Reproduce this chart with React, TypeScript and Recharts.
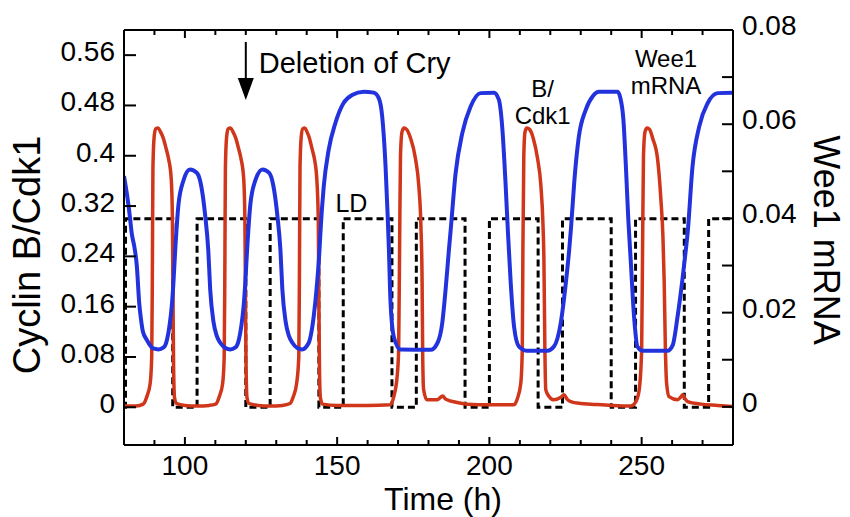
import React from 'react';
import { LineChart, Line, XAxis, YAxis, ReferenceDot } from 'recharts';

const FONT = '"Liberation Sans", Arial, Helvetica, sans-serif';
const RED = '#d0361a';
const BLUE = '#2233dd';

// Cyclin B/Cdk1 (left axis): [time h, level]
const cyclinSamples: [number, number][] = [
  [80, 0.002], [84, 0.002], [86.3, 0.005], [87.5, 0.017], [88.6, 0.038], [89.1, 0.08], [89.3, 0.2], [89.5, 0.38],
  [89.9, 0.43], [90.4, 0.443], [91.2, 0.444], [92.0, 0.438], [92.9, 0.428], [93.8, 0.412], [94.6, 0.396], [95.5, 0.364],
  [95.9, 0.3], [96.1, 0.17], [96.3, 0.06], [96.6, 0.015], [97.3, 0.006], [100, 0.003], [104, 0.002], [108, 0.003],
  [110.1, 0.005], [111.3, 0.017], [112.4, 0.038], [112.9, 0.08], [113.1, 0.2], [113.3, 0.38], [113.7, 0.43], [114.2, 0.443],
  [115.0, 0.444], [115.8, 0.438], [116.7, 0.428], [117.6, 0.412], [118.4, 0.396], [119.3, 0.364], [119.7, 0.3], [119.9, 0.17],
  [120.1, 0.06], [120.4, 0.015], [121.1, 0.006], [124, 0.003], [128, 0.002], [132, 0.003],
  [134.5, 0.006], [135.6, 0.017], [136.7, 0.038], [137.4, 0.08], [137.6, 0.2], [137.8, 0.38], [138.2, 0.43], [138.7, 0.443],
  [139.4, 0.444], [140.1, 0.438], [140.9, 0.428], [141.7, 0.412], [142.5, 0.396], [143.3, 0.364], [143.8, 0.3], [144.0, 0.17],
  [144.2, 0.06], [144.5, 0.015], [145.2, 0.005], [150, 0.003], [160, 0.003], [167.5, 0.004],
  [168.6, 0.017], [169.7, 0.049], [170.2, 0.092], [170.5, 0.25], [170.8, 0.4], [171.3, 0.438], [172.0, 0.444], [172.8, 0.442],
  [174.1, 0.428], [175.7, 0.396], [176.8, 0.353], [177.5, 0.29], [177.9, 0.2], [178.1, 0.08], [178.4, 0.028], [179.5, 0.012],
  [182.9, 0.012], [184.0, 0.016], [184.7, 0.018], [185.4, 0.014], [186.1, 0.012], [189, 0.008], [192.7, 0.005], [200, 0.004],
  [208.1, 0.004],
  [209.2, 0.014], [210.3, 0.038], [210.8, 0.092], [211.0, 0.25], [211.3, 0.4], [211.7, 0.438], [212.3, 0.444], [213.2, 0.442],
  [214.4, 0.428], [215.8, 0.396], [216.9, 0.353], [217.6, 0.29], [217.9, 0.236], [218.2, 0.1], [218.5, 0.028], [219.6, 0.017],
  [221, 0.012], [223.5, 0.016], [224.5, 0.02], [225.5, 0.013], [226.7, 0.009], [230, 0.006], [233.3, 0.005], [240, 0.003],
  [246.4, 0.002],
  [248.1, 0.009], [249.2, 0.028], [250.0, 0.092], [250.3, 0.25], [250.6, 0.4], [251.1, 0.438], [251.8, 0.444], [252.6, 0.442],
  [253.6, 0.428], [255.2, 0.396], [256.3, 0.332], [257.0, 0.27], [257.4, 0.2], [257.8, 0.092], [258.2, 0.038], [259.0, 0.017],
  [261.8, 0.012], [262.8, 0.016], [263.5, 0.02], [264.3, 0.013], [265.1, 0.009], [269.5, 0.005], [275, 0.003], [280, 0.001],
];

// Wee1 mRNA (right axis): [time h, level]
const wee1Samples: [number, number][] = [
  [80, 0.049], [81, 0.045], [82, 0.04], [82.5, 0.037], [83.4, 0.034], [84.2, 0.03], [85, 0.022], [85.5, 0.019],
  [86.2, 0.016], [87.5, 0.0142], [89.6, 0.0124], [91.3, 0.0122], [93, 0.0126], [94.1, 0.0142], [95, 0.0175], [95.7, 0.0215],
  [96.2, 0.026], [96.8, 0.033], [97.9, 0.043], [99.5, 0.048], [101.7, 0.0504], [103.9, 0.0497], [105, 0.048], [105.6, 0.046],
  [106.6, 0.041], [107.7, 0.033], [108.3, 0.025], [109.4, 0.018], [110.5, 0.015], [111.6, 0.0136], [113.3, 0.0125], [114.9, 0.0122],
  [116.6, 0.0126], [117.7, 0.0142], [118.6, 0.0175], [119.3, 0.0215], [119.8, 0.026], [120.4, 0.033], [121.5, 0.043], [123.1, 0.048],
  [125.5, 0.0504], [127.6, 0.0497], [128.7, 0.048], [129.3, 0.046], [130.3, 0.041], [131.4, 0.033], [132, 0.025], [133.1, 0.018],
  [134.2, 0.015], [135.3, 0.0136], [136.9, 0.0125], [138.5, 0.0122],
  [140.6, 0.0135], [142.3, 0.0192], [143.4, 0.0262], [144.2, 0.0333], [144.5, 0.0369], [145.6, 0.0468], [147.2, 0.0545], [149.4, 0.0602],
  [152.1, 0.0645], [154.9, 0.0662], [158.7, 0.0669], [162, 0.0667], [163.7, 0.0655], [164.8, 0.0616], [165.9, 0.051], [166.6, 0.0404],
  [167, 0.0333], [167.5, 0.0227], [168.6, 0.0149], [170.8, 0.0122], [180.7, 0.0121],
  [182.9, 0.0135], [184.5, 0.0177], [185.6, 0.0248], [186.7, 0.0333], [187.2, 0.0369], [188.9, 0.0496], [191.1, 0.0581], [193.8, 0.0637],
  [197.1, 0.0666], [201.5, 0.0667], [203.1, 0.0652], [204.2, 0.0595], [205.3, 0.0475], [206.1, 0.0369], [207, 0.0263], [208.1, 0.017],
  [209.7, 0.0128], [212.5, 0.0119], [219, 0.0119],
  [221.2, 0.0128], [223.4, 0.0177], [225.1, 0.0263], [226.2, 0.0333], [226.8, 0.038], [227.9, 0.048], [229.3, 0.057], [231.6, 0.063],
  [234, 0.066], [236, 0.0669], [242.1, 0.0669], [243, 0.0656], [244, 0.061], [244.9, 0.05], [245.6, 0.04], [246.4, 0.0312],
  [247.5, 0.0192], [248.6, 0.0128], [250.3, 0.0119], [258.5, 0.0119],
  [260.2, 0.0131], [261.8, 0.0192], [263.5, 0.0276], [264.5, 0.0333], [265.1, 0.0369], [266.7, 0.051], [268.9, 0.0595], [271.7, 0.0645],
  [275, 0.0666], [279.9, 0.0667], [280, 0.0667],
];

// Light/dark schedule (left axis units), step after each transition time
const ldTime = [80, 80.5, 96, 104, 120, 128, 144, 152, 168, 176, 192, 200, 216, 224, 240, 248, 264, 272, 280];
const ldLevel = [0, 0.3, 0, 0.3, 0, 0.3, 0, 0.3, 0, 0.3, 0, 0.3, 0, 0.3, 0, 0.3, 0, 0.3, 0.3];

const leftTicks = [0, 0.08, 0.16, 0.24, 0.32, 0.4, 0.48, 0.56];
const rightTicks = [0, 0.01, 0.02, 0.03, 0.04, 0.05, 0.06, 0.07, 0.08];
const rightLabels = [0, 0.02, 0.04, 0.06, 0.08];
const timeTicks = [80, 90, 100, 110, 120, 130, 140, 150, 160, 170, 180, 190, 200, 210, 220, 230, 240, 250, 260, 270, 280];
const timeLabels = [100, 150, 200, 250];

const cyclinData = cyclinSamples.map(([t, v]) => ({ t, v }));
const wee1Data = wee1Samples.map(([t, v]) => ({ t, v }));
const ldData = ldTime.map((t, i) => ({ t, v: ldLevel[i] }));

const LeftTick = (p: any) => {
  const { x, y, payload } = p;
  const ax = x + 9;
  return (
    <g>
      <line x1={ax} x2={ax + 12} y1={y} y2={y} stroke="#000" strokeWidth={2} />
      <text x={x} y={y + 6} textAnchor="end" fontSize={28} fontFamily={FONT} fill="#000">
        {payload.value}
      </text>
    </g>
  );
};

const RightTick = (p: any) => {
  const { x, y, payload } = p;
  const ax = x - 9;
  const show = rightLabels.some((v) => Math.abs(v - payload.value) < 1e-9);
  return (
    <g>
      <line x1={ax} x2={ax - 11} y1={y} y2={y} stroke="#000" strokeWidth={2} />
      {show && (
        <text x={x} y={y + 5} textAnchor="start" fontSize={28} fontFamily={FONT} fill="#000">
          {payload.value}
        </text>
      )}
    </g>
  );
};

const BottomTick = (p: any) => {
  const { x, y, payload } = p;
  const major = payload.value % 50 === 0;
  const show = timeLabels.includes(payload.value);
  return (
    <g>
      <line x1={x} x2={x} y1={y} y2={y - (major ? 8 : 5)} stroke="#000" strokeWidth={2} />
      {show && (
        <text x={x} y={y + 30} textAnchor="middle" fontSize={28} fontFamily={FONT} fill="#000">
          {payload.value}
        </text>
      )}
    </g>
  );
};

const TopTick = (p: any) => {
  const { x, y, payload } = p;
  const major = payload.value % 50 === 0;
  return <line x1={x} x2={x} y1={y} y2={y + (major ? 8 : 5)} stroke="#000" strokeWidth={2} />;
};

const LeftTitle = () => (
  <text transform="translate(40,255) rotate(-90)" textAnchor="middle" fontSize={38} fontFamily={FONT} fill="#000">
    Cyclin B/Cdk1
  </text>
);
const RightTitle = () => (
  <text transform="translate(814,240) rotate(90)" textAnchor="middle" fontSize={36} fontFamily={FONT} fill="#000">
    Wee1 mRNA
  </text>
);
const BottomTitle = () => (
  <text x={443} y={510} textAnchor="middle" fontSize={32} fontFamily={FONT} fill="#000">
    Time (h)
  </text>
);

const DeletionArrow = (p: any) => {
  const { cx, cy } = p;
  return (
    <g>
      <line x1={cx} x2={cx} y1={cy} y2={cy + 42} stroke="#000" strokeWidth={2} />
      <polygon points={`${cx - 8},${cy + 36} ${cx + 8},${cy + 36} ${cx},${cy + 58}`} fill="#000" />
      <text x={cx + 13} y={cy + 31} fontSize={29} fontFamily={FONT} fill="#000">
        Deletion of Cry
      </text>
    </g>
  );
};

const TextLines = (lines: string[], size: number, gap: number) => (p: any) => {
  const { cx, cy } = p;
  return (
    <text x={cx} y={cy} textAnchor="middle" fontSize={size} fontFamily={FONT} fill="#000">
      {lines.map((s, i) => (
        <tspan key={i} x={cx} dy={i === 0 ? 0 : gap}>
          {s}
        </tspan>
      ))}
    </text>
  );
};

export default function App() {
  return (
    <div style={{ position: 'absolute', left: 0, top: 0, width: 850, height: 517, background: '#fff' }}>
      <LineChart width={850} height={517} margin={{ top: 0, right: 0, bottom: 0, left: 0 }}>
        <XAxis
          xAxisId="bottom"
          dataKey="t"
          type="number"
          domain={[80, 280]}
          ticks={timeTicks}
          interval={0}
          allowDataOverflow
          height={72}
          orientation="bottom"
          axisLine={{ stroke: '#000', strokeWidth: 2 }}
          tickLine={false}
          tickSize={0}
          tickMargin={0}
          tick={(p: any) => <BottomTick {...p} />}
          label={<BottomTitle />}
        />
        <XAxis
          xAxisId="top"
          dataKey="t"
          type="number"
          domain={[80, 280]}
          ticks={timeTicks}
          interval={0}
          allowDataOverflow
          height={30}
          orientation="top"
          axisLine={{ stroke: '#000', strokeWidth: 2 }}
          tickLine={false}
          tickSize={0}
          tickMargin={0}
          tick={(p: any) => <TopTick {...p} />}
        />
        <YAxis
          yAxisId="left"
          type="number"
          domain={[-0.06, 0.6]}
          ticks={leftTicks}
          interval={0}
          allowDataOverflow
          width={124}
          orientation="left"
          axisLine={{ stroke: '#000', strokeWidth: 2 }}
          tickLine={false}
          tickSize={0}
          tickMargin={9}
          tick={(p: any) => <LeftTick {...p} />}
          label={<LeftTitle />}
        />
        <YAxis
          yAxisId="right"
          type="number"
          domain={[-0.0081, 0.08]}
          ticks={rightTicks}
          interval={0}
          allowDataOverflow
          width={117}
          orientation="right"
          axisLine={{ stroke: '#000', strokeWidth: 2 }}
          tickLine={false}
          tickSize={0}
          tickMargin={9}
          tick={(p: any) => <RightTick {...p} />}
          label={<RightTitle />}
        />
        <Line
          data={ldData}
          xAxisId="bottom"
          yAxisId="left"
          dataKey="v"
          type="stepAfter"
          stroke="#000"
          strokeWidth={3}
          strokeDasharray="7 4"
          dot={false}
          activeDot={false}
          isAnimationActive={false}
        />
        <Line
          data={cyclinData}
          xAxisId="bottom"
          yAxisId="left"
          dataKey="v"
          type="monotone"
          stroke={RED}
          strokeWidth={3.5}
          dot={false}
          activeDot={false}
          isAnimationActive={false}
        />
        <Line
          data={wee1Data}
          xAxisId="bottom"
          yAxisId="right"
          dataKey="v"
          type="monotone"
          stroke={BLUE}
          strokeWidth={4}
          dot={false}
          activeDot={false}
          isAnimationActive={false}
        />
        <ReferenceDot xAxisId="bottom" yAxisId="left" x={120} y={0.581} r={0} shape={DeletionArrow} />
        <ReferenceDot xAxisId="bottom" yAxisId="left" x={154.7} y={0.31} r={0} shape={TextLines(['LD'], 25, 0)} />
        <ReferenceDot xAxisId="bottom" yAxisId="left" x={217.5} y={0.493} r={0} shape={TextLines(['B/', 'Cdk1'], 24, 27)} />
        <ReferenceDot xAxisId="bottom" yAxisId="left" x={258} y={0.541} r={0} shape={TextLines(['Wee1', 'mRNA'], 24, 27)} />
      </LineChart>
    </div>
  );
}
